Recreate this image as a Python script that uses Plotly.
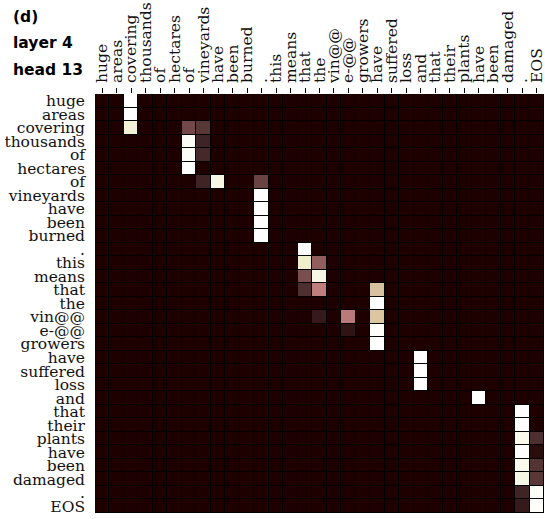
import numpy as np
import plotly.graph_objects as go

tokens = ["huge", "areas", "covering", "thousands", "of", "hectares", "of",
          "vineyards", "have", "been", "burned", ".", "this", "means", "that",
          "the", "vin@@", "e-@@", "growers", "have", "suffered", "loss", "and",
          "that", "their", "plants", "have", "been", "damaged", ".", "EOS"]

# non-negligible attention weights: (query row, key column, weight)
att_rows = [0, 1, 2, 2, 2, 3, 3, 4, 4, 5, 6, 6, 6,
            7, 8, 9, 10, 11, 12, 12, 13, 13, 14, 14, 14,
            15, 16, 16, 16, 17, 17, 18, 19, 20, 21, 22,
            23, 24, 25, 25, 26, 26, 27, 27, 28, 28, 29, 29, 30, 30]
att_cols = [2, 2, 2, 6, 7, 6, 7, 6, 7, 6, 7, 8, 11,
            11, 11, 11, 11, 14, 14, 15, 14, 15, 14, 15, 19,
            19, 15, 17, 19, 17, 19, 19, 22, 22, 22, 26,
            29, 29, 29, 30, 29, 30, 29, 30, 29, 30, 29, 30, 29, 30]
att_vals = [1.0, 1.0, 0.86, 0.12, 0.07, 0.96, 0.03, 0.96, 0.04, 1.0, 0.03, 0.9, 0.1,
            1.0, 1.0, 1.0, 1.0, 1.0, 0.82, 0.2, 0.14, 0.9, 0.05, 0.36, 0.58,
            1.0, 0.02, 0.34, 0.6, 0.015, 0.98, 1.0, 1.0, 1.0, 1.0, 1.0,
            1.0, 1.0, 0.93, 0.05, 0.99, 0.01, 0.93, 0.06, 0.91, 0.07, 0.03, 0.97, 0.02, 0.98]

n = len(tokens)
z = np.zeros((n, n))
for r, c, v in zip(att_rows, att_cols, att_vals):
    z[r, c] = v

# matplotlib "pink" colormap: sqrt((2*gray + hot)/3)
def _interp(x, pts):
    xs, ys = zip(*pts)
    return np.interp(x, xs, ys)

stops = np.linspace(0, 1, 41)
colorscale = []
for s in stops:
    hr = _interp(s, [(0, 0.0416), (0.365079, 1.0), (1, 1.0)])
    hg = _interp(s, [(0, 0.0), (0.365079, 0.0), (0.746032, 1.0), (1, 1.0)])
    hb = _interp(s, [(0, 0.0), (0.746032, 0.0), (1, 1.0)])
    rgb = [np.sqrt((2 * s + h) / 3) for h in (hr, hg, hb)]
    colorscale.append([float(s), "rgb(%d,%d,%d)" % tuple(int(round(255 * c)) for c in rgb)])

fig = go.Figure(go.Heatmap(
    z=z, x=list(range(n)), y=list(range(n)),
    colorscale=colorscale, zmin=0, zmax=1, showscale=False,
    xgap=1, ygap=1, hoverinfo="skip"))

label_font = dict(family="DejaVu Serif", size=15.5, color="#111")
fig.update_xaxes(side="top", tickmode="array", tickvals=list(range(n)), ticktext=tokens,
                 tickangle=-90, range=[-0.5, n - 0.5], ticks="outside", ticklen=5,
                 tickcolor="black", showgrid=False, zeroline=False, tickfont=label_font,
                 showline=False, ticklabelstandoff=2, automargin=False,
                 ticklabeloverflow="allow")
fig.update_yaxes(tickmode="array", tickvals=list(range(n)), ticktext=tokens,
                 range=[n - 0.5, -0.5], ticks="", showgrid=False, zeroline=False,
                 tickfont=label_font, showline=False, ticklabelstandoff=9, automargin=False,
                 ticklabeloverflow="allow")

W, H = 545, 519
L, R, T, B = 94.5, 1, 94, 6
pw, ph = W - L - R, H - T - B
for text, py in [("(d)", 17), ("layer 4", 43), ("head 13", 70)]:
    fig.add_annotation(text="<b>%s</b>" % text, xref="paper", yref="paper",
                       x=(10 - L) / pw, y=(H - B - py) / ph, xanchor="left", yanchor="middle",
                       showarrow=False, font=dict(family="DejaVu Sans", size=15.5, color="black"))

fig.update_layout(width=W, height=H, margin=dict(l=L, r=R, t=T, b=B, pad=0, autoexpand=False),
                  plot_bgcolor="black", paper_bgcolor="white", showlegend=False)
fig.write_html("out.html", config={"displayModeBar": False},
               post_script="document.body.style.margin='0';document.body.style.padding='0';")
